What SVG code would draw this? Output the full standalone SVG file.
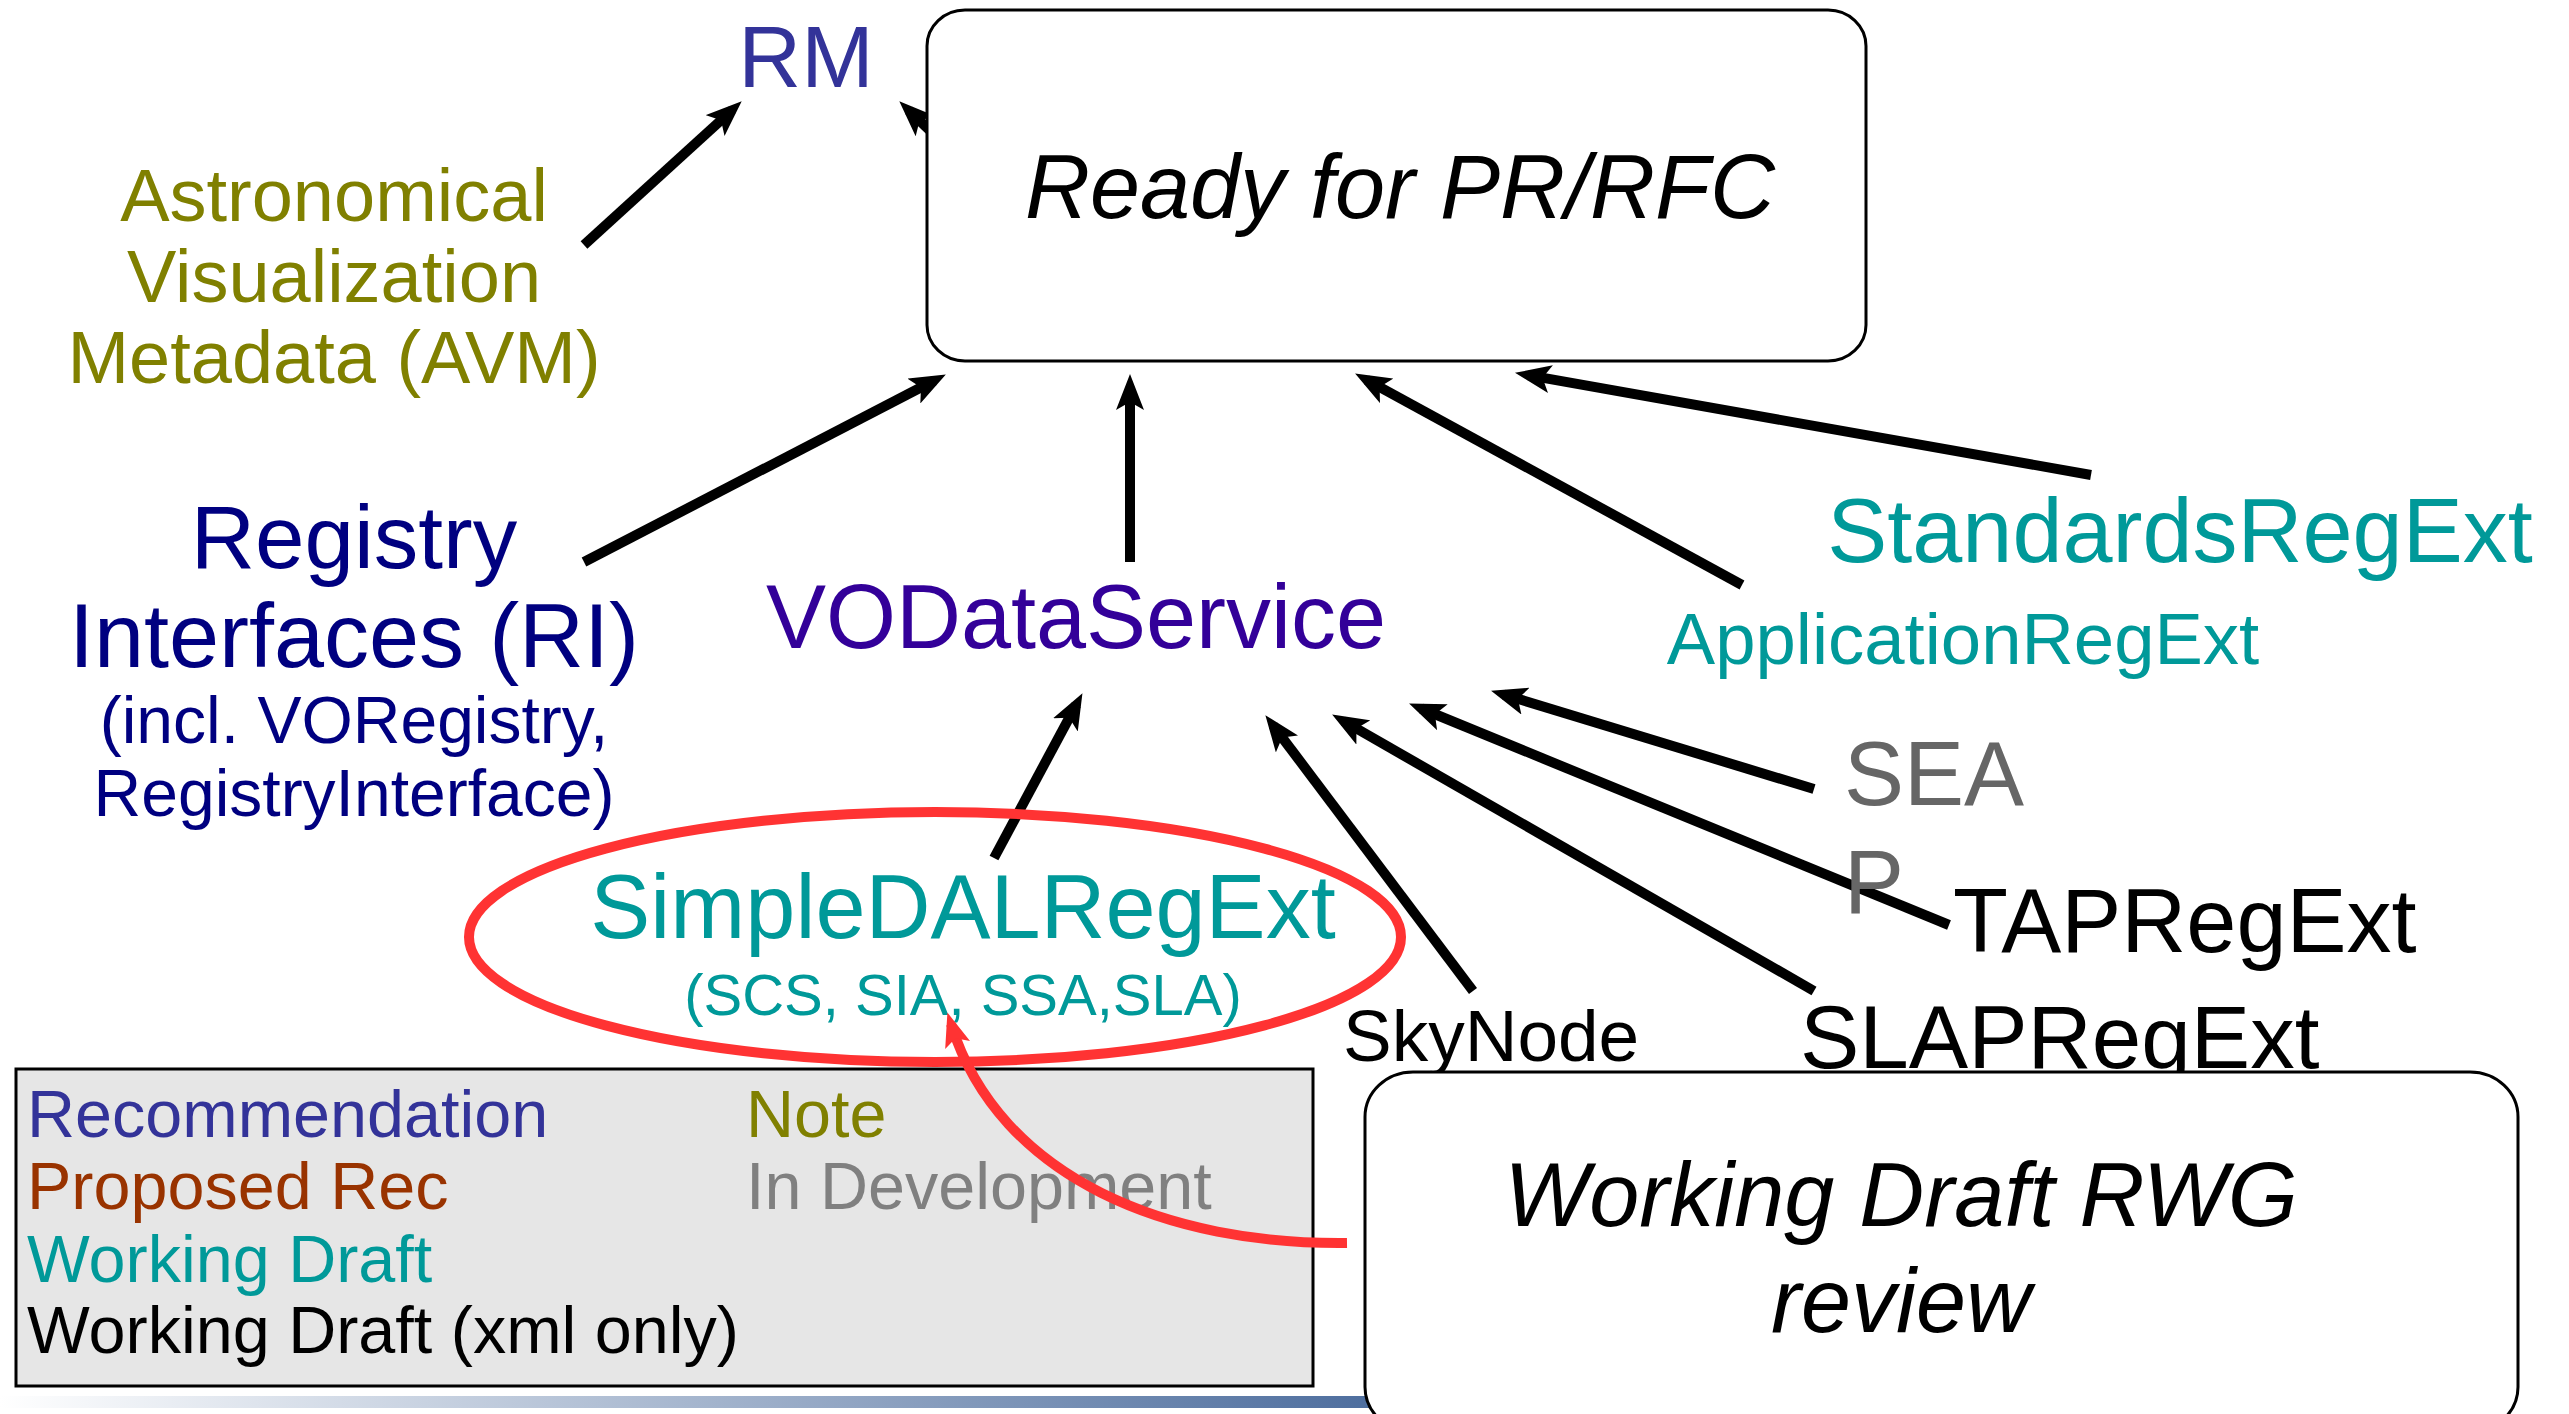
<svg xmlns="http://www.w3.org/2000/svg" width="2569" height="1414" viewBox="0 0 2569 1414">
<style>
text{font-family:"Liberation Sans",Arial,sans-serif}
.it{font-style:italic}
.blk{fill:#000}
.teal{fill:#009999}
.con{stroke:#000;stroke-width:10;fill:none;marker-end:url(#ah)}
.box{fill:#fff;stroke:#000;stroke-width:3}
</style>
<defs>
<marker id="ah" markerUnits="userSpaceOnUse" viewBox="0 0 36 28" markerWidth="36" markerHeight="28" refX="23" refY="14" orient="auto">
<path d="M0,0 L36,14 L0,28 L8,14 Z" fill="#000"/>
</marker>
<marker id="ahr" markerUnits="userSpaceOnUse" viewBox="0 0 34 26" markerWidth="34" markerHeight="26" refX="22" refY="13" orient="auto">
<path d="M0,0 L34,13 L0,26 L7,13 Z" fill="#ff3333"/>
</marker>
<linearGradient id="bar" x1="0" y1="0" x2="1" y2="0">
<stop offset="0" stop-color="#ffffff"/>
<stop offset="1" stop-color="#4a6b9c"/>
</linearGradient>
</defs>
<rect x="0" y="0" width="2569" height="1414" fill="#fff"/>
<rect x="0" y="1396" width="1400" height="12" fill="url(#bar)"/>

<g id="connectors">
<line class="con" x1="584" y1="245" x2="732.1" y2="110.1"/>
<line class="con" x1="945" y1="145" x2="908.7" y2="110.3"/>
<line class="con" x1="584" y1="562" x2="934.3" y2="380.5"/>
<line class="con" x1="1130" y1="562" x2="1130" y2="387"/>
<line class="con" x1="1742" y1="585" x2="1366.5" y2="379.8"/>
<line class="con" x1="2091" y1="475" x2="1527.8" y2="375.1"/>
<line class="con" x1="994" y1="858" x2="1076.3" y2="704.6"/>
<line class="con" x1="1473" y1="991" x2="1273.2" y2="725.6"/>
<line class="con" x1="1814" y1="991" x2="1343.4" y2="721"/>
<line class="con" x1="1949" y1="925" x2="1421.1" y2="708.5"/>
<line class="con" x1="1814" y1="789" x2="1503.5" y2="694.5"/>
</g>

<g id="legend">
<rect x="16" y="1069" width="1297" height="317" fill="#e6e6e6" stroke="#000" stroke-width="3"/>
<g font-size="66.5">
<text x="27" y="1137" fill="#333399">Recommendation</text>
<text x="27" y="1209" fill="#993300">Proposed Rec</text>
<text x="27" y="1282" fill="#009999">Working Draft</text>
<text x="27" y="1353" fill="#000">Working Draft (xml only)</text>
<text x="746" y="1137" fill="#808000">Note</text>
<text x="746" y="1209" fill="#808080">In Development</text>
</g>
</g>

<g id="ready">
<rect class="box" x="927" y="10" width="939" height="351" rx="38" ry="36"/>
<text class="it" x="1400" y="218" font-size="90" text-anchor="middle">Ready for PR/RFC</text>
</g>

<g id="rm"><text x="806" y="87" font-size="87" fill="#333399" text-anchor="middle">RM</text></g>

<g id="avm" fill="#808000" font-size="74" text-anchor="middle">
<text x="334" y="221">Astronomical</text>
<text x="334" y="302">Visualization</text>
<text x="334" y="383">Metadata (AVM)</text>
</g>

<g id="ri" fill="#000080" text-anchor="middle">
<text x="354" y="568" font-size="89">Registry</text>
<text x="354" y="667" font-size="90">Interfaces (RI)</text>
<text x="354" y="743" font-size="66">(incl. VORegistry,</text>
<text x="354" y="816" font-size="66">RegistryInterface)</text>
</g>

<g id="vodataservice"><text x="1076" y="648" font-size="90" fill="#330099" text-anchor="middle">VODataService</text></g>

<g id="standards"><text class="teal" x="2180" y="562" font-size="90" text-anchor="middle">StandardsRegExt</text></g>
<g id="application"><text class="teal" x="1963" y="664" font-size="72.5" text-anchor="middle">ApplicationRegExt</text></g>

<g id="seap" fill="#666666" font-size="90">
<text x="1844" y="805">SEA</text>
<text x="1844" y="913">P</text>
</g>

<g id="tapregext"><text class="blk" x="1953" y="952" font-size="90">TAPRegExt</text></g>
<g id="skynode"><text class="blk" x="1343" y="1061" font-size="73">SkyNode</text></g>
<g id="slapregext"><text class="blk" x="1800" y="1068" font-size="89">SLAPRegExt</text></g>

<g id="simpledal">
<text class="teal" x="963" y="938" font-size="90" text-anchor="middle">SimpleDALRegExt</text>
<text class="teal" x="963" y="1015" font-size="58" text-anchor="middle">(SCS, SIA, SSA,SLA)</text>
<ellipse cx="935" cy="937" rx="466" ry="125" fill="none" stroke="#ff3333" stroke-width="10"/>
</g>

<g id="highlight">
<path d="M1347,1243 C1170,1245 1000,1180 951,1024" fill="none" stroke="#ff3333" stroke-width="10" marker-end="url(#ahr)"/>
</g>

<g id="working-draft">
<rect class="box" x="1365" y="1072" width="1153" height="360" rx="48" ry="45"/>
<text class="it" x="1901" y="1226" font-size="90" text-anchor="middle">Working Draft RWG</text>
<text class="it" x="1901" y="1332" font-size="90" text-anchor="middle">review</text>
</g>
</svg>
